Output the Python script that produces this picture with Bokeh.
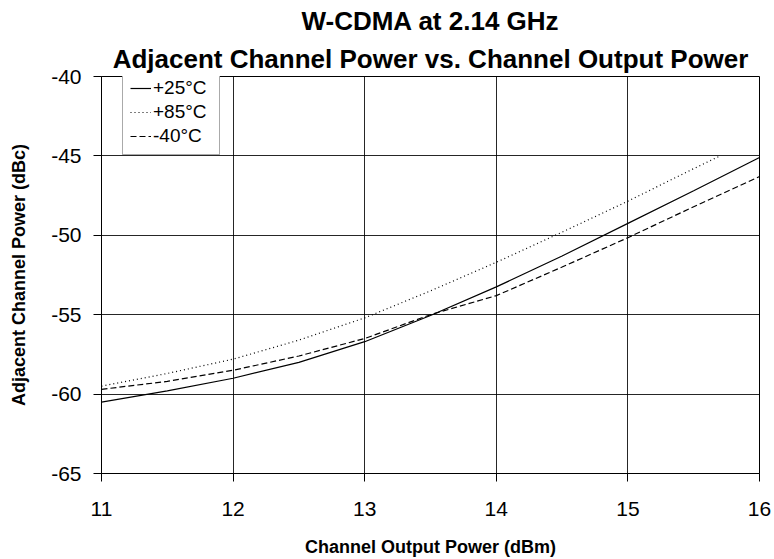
from bokeh.plotting import figure
from bokeh.models import Title, Legend, LegendItem, FixedTicker, Range1d, PrintfTickFormatter
from bokeh.embed import file_html
from bokeh.resources import INLINE

x_pts = [11, 11.5, 12, 12.5, 13, 13.5, 14, 14.5, 15, 15.5, 16]
acp_25 = [-60.5, -59.8, -59.0, -58.0, -56.7, -55.05, -53.25, -51.3, -49.25, -47.2, -45.1]
acp_m40 = [-59.7, -59.2, -58.5, -57.6, -56.5, -55.0, -53.8, -52.0, -50.15, -48.2, -46.3]
x_85 = [11, 11.5, 12, 12.5, 13, 13.5, 14, 14.5, 15, 15.5, 15.7]
acp_85 = [-59.5, -58.7, -57.8, -56.6, -55.2, -53.5, -51.7, -49.8, -47.85, -45.8, -45.0]
x_ticks = [11, 12, 13, 14, 15, 16]
y_ticks = [-65, -60, -55, -50, -45, -40]

FONT = "Liberation Sans"

p = figure(width=774, height=559, output_backend="svg", toolbar_location=None,
           x_range=Range1d(11, 16), y_range=Range1d(-65, -40),
           min_border_left=101, min_border_right=15, min_border_top=76, min_border_bottom=81)
p.title = None
p.add_layout(Title(text="Adjacent Channel Power vs. Channel Output Power", align="center",
                   text_font=FONT, text_font_size="26px", text_font_style="bold",
                   text_color="black", standoff=6), "above")
p.add_layout(Title(text="W-CDMA at 2.14 GHz", align="center",
                   text_font=FONT, text_font_size="26px", text_font_style="bold",
                   text_color="black", standoff=6), "above")

p.outline_line_color = "black"
p.outline_line_width = 1

for ax in (p.xaxis[0], p.yaxis[0]):
    ax.axis_line_color = "black"
    ax.major_tick_line_color = "black"
    ax.minor_tick_line_color = None
    ax.major_tick_in = 0
    ax.major_tick_out = 8
    ax.major_label_text_font = FONT
    ax.major_label_text_font_size = "21px"
    ax.major_label_text_color = "black"
    ax.axis_label_text_font = FONT
    ax.axis_label_text_font_size = "18px"
    ax.axis_label_text_font_style = "bold"
    ax.axis_label_text_color = "black"

p.xaxis.ticker = FixedTicker(ticks=x_ticks)
p.yaxis.ticker = FixedTicker(ticks=y_ticks)
p.xaxis.formatter = PrintfTickFormatter(format="%d")
p.yaxis.formatter = PrintfTickFormatter(format="%d")
p.xaxis.major_label_standoff = 20
p.yaxis.major_label_standoff = 12
p.xaxis.axis_label = "Channel Output Power (dBm)"
p.yaxis.axis_label = "Adjacent Channel Power (dBc)"
p.xaxis.axis_label_standoff = 18
p.yaxis.axis_label_standoff = 19

p.xgrid.grid_line_color = "black"
p.ygrid.grid_line_color = "black"
p.xgrid.grid_line_alpha = 0.85
p.ygrid.grid_line_alpha = 0.85

r1 = p.line(x_pts, acp_25, line_color="black", line_width=1.2)
r2 = p.line(x_85, acp_85, line_color="black", line_width=1.2, line_dash="1 3")
r3 = p.line(x_pts, acp_m40, line_color="black", line_width=1.2, line_dash="6 3")

legend = Legend(items=[LegendItem(label="+25°C", renderers=[r1]),
                       LegendItem(label="+85°C", renderers=[r2]),
                       LegendItem(label="-40°C", renderers=[r3])],
                location=(21, 318))
legend.label_text_font = FONT
legend.label_text_font_size = "19px"
legend.label_text_color = "black"
legend.glyph_width = 21
legend.glyph_height = 22
legend.label_height = 22
legend.label_width = 59
legend.label_standoff = 2
legend.spacing = 2
legend.padding = 7
legend.margin = 0
legend.border_line_color = "#555555"
legend.border_line_width = 1
legend.background_fill_color = "white"
legend.background_fill_alpha = 1
p.add_layout(legend, "center")

open("out.html", "w").write(file_html(p, INLINE))
